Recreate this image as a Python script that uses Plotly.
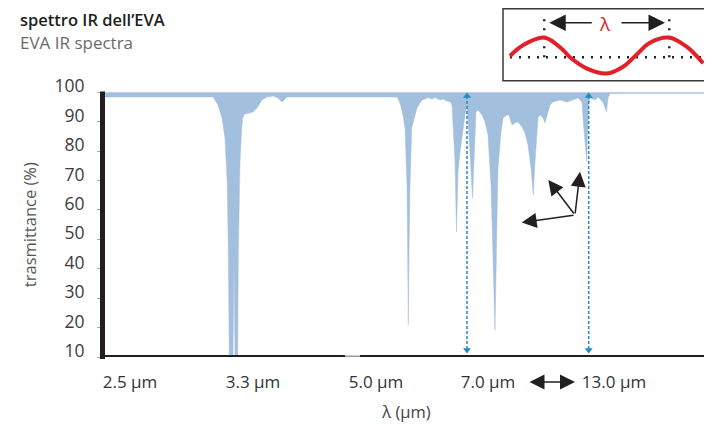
import plotly.graph_objects as go

# ---------------- data ----------------
# spectrum: position along the x axis (axis units) and transmittance (%)
pos = [0, 112, 117, 121, 124, 126.3, 127.3, 128.3, 132, 133, 134, 136.7, 137.3, 138.3, 139,
       140.7, 141.7, 143.3, 152, 156, 161, 166, 172, 177, 181, 186, 296, 299, 302, 304, 306,
       306.5, 307.3, 308, 309, 310.7, 313, 316, 319, 321, 324, 327, 331, 334, 339, 342, 346,
       349, 351, 352, 354, 355.5, 357, 359, 361, 364, 366, 367, 369, 371.5, 373, 375, 377,
       381, 384, 387, 390, 392, 394, 395.7, 397, 400, 402, 406, 408, 411, 414, 417, 421, 424,
       427, 430, 432.3, 434, 436, 437, 439, 442, 444, 446, 449, 452, 459, 466, 472, 477, 481,
       482, 485.7, 486.5, 487.5, 489, 494, 497, 502, 505.5, 507, 509, 611]
trans = [98.4, 98.4, 95.7, 91.3, 84.5, 68.5, 45.8, 10, 10, 45.4, 10, 10, 45.7, 68.5, 76.3,
         87.8, 91.3, 92.5, 93.3, 94.7, 97.4, 98.4, 98.7, 98.1, 96.7, 98.4, 98.4, 96.4, 92.3, 87.9, 68.5,
         52.5, 20.9, 45.8, 68.5, 87.9, 91.3, 94.7, 96.4, 97.4, 97.7, 98.2, 97.7, 98.2, 97.4, 97.7, 97.0,
         96.8, 95.7, 88.9, 76.3, 52.5, 72.9, 79.7, 85.5, 92.3, 95.7, 91.3, 79.7, 64.0, 79.7, 93.3, 94.0,
         92.3, 89.9, 85.5, 68.5, 40.3, 19.2, 51.5, 74.3, 86.5, 91.3, 92.3, 92.3, 88.9, 89.6, 89.9, 88.2, 86.2,
         82.1, 74.3, 65.1, 76.3, 87.9, 91.3, 92.3, 91.3, 89.6, 92.3, 95.7, 96.7, 97.4, 96.7, 97.4, 98.1, 96.7,
         91.3, 76.4, 88.9, 95.3, 98.1, 97.4, 98.4, 96.7, 93.4, 98.1, 99.6, 99.6]
top_pos = [0, 611]
top_val = [100, 100]

x_tickvals = [29, 152, 275, 387, 513]
x_ticktext = ['2.5 μm', '3.3 μm', '5.0 μm', '7.0 μm', '13.0 μm']
y_tickvals = [10, 20, 30, 40, 50, 60, 70, 80, 90, 100]

# marker lines (dotted double arrows) positions
mark_pos = [366, 487.7]
mark_span = [98.7, 12.4]

# vibration arrows: origin and heads
vib_origin = (474, 58.3)
vib_heads = [(420.7, 55.7), (447.3, 70.2), (479, 73.0)]

# inset wave (wavelength units, offset from midline)
wave_x = [-0.274, -0.168, 0, 0.15, 0.206, 0.338, 0.498, 0.631, 0.717, 0.845, 0.997, 1.139, 1.271]
wave_y = [1.3, 12.3, 19.8, 7.3, 0, -11, -16.2, -9.4, 0, 14.6, 19.8, 10.6, -6]

# ---------------- layout helpers ----------------
OFF = 8                      # page body margin of the html page
W, H = 712 - OFF, 424 - OFF  # figure size so that it fills the window exactly


def px(rx):
    return (rx - OFF) / W


def py(ry):
    return 1 - (ry - OFF) / H


FONT = 'Open Sans'
fill_col = '#a2bfdd'
ink = '#231f20'

fig = go.Figure()

fig.add_trace(go.Scatter(x=top_pos, y=top_val, mode='lines',
                         line=dict(color=fill_col, width=0.5), hoverinfo='skip', showlegend=False))
fig.add_trace(go.Scatter(x=pos, y=trans, mode='lines', fill='tonexty', fillcolor=fill_col,
                         line=dict(color=fill_col, width=0.5), showlegend=False))

for mp in mark_pos:
    fig.add_trace(go.Scatter(x=[mp, mp], y=mark_span, mode='lines+markers',
                             line=dict(color='#2589c2', width=1.5, dash='3px,2px'),
                             marker=dict(symbol=['triangle-up', 'triangle-down'], size=7, color='#2589c2'),
                             showlegend=False))

# inset
dot = dict(color='#222', width=2.5, dash='2px,7px')
fig.add_trace(go.Scatter(x=[wave_x[0], wave_x[-1]], y=[0, 0], mode='lines', xaxis='x2', yaxis='y2',
                         line=dot, showlegend=False))
for vx in [0, 1.0]:
    fig.add_trace(go.Scatter(x=[vx, vx], y=[0, 44.6], mode='lines', xaxis='x2', yaxis='y2',
                             line=dot, showlegend=False))
fig.add_trace(go.Scatter(x=wave_x, y=wave_y, mode='lines', xaxis='x2', yaxis='y2',
                         line=dict(color='#e3202a', width=4, shape='spline', smoothing=1),
                         showlegend=False))

annotations = []
for hx, hy in vib_heads:
    annotations.append(dict(x=hx, y=hy, ax=vib_origin[0], ay=vib_origin[1], xref='x', yref='y',
                            axref='x', ayref='y', text='', showarrow=True, arrowhead=2,
                            arrowsize=2, arrowwidth=1.5, arrowcolor=ink))
# inset arrows
annotations.append(dict(x=0.04, y=34.6, ax=0.392, ay=34.6, xref='x2', yref='y2', axref='x2', ayref='y2',
                        text='', showarrow=True, arrowhead=2, arrowsize=2.2, arrowwidth=1.5,
                        arrowcolor=ink))
annotations.append(dict(x=0.966, y=34.6, ax=0.606, ay=34.6, xref='x2', yref='y2', axref='x2', ayref='y2',
                        text='', showarrow=True, arrowhead=2, arrowsize=2.2, arrowwidth=1.5,
                        arrowcolor=ink))
annotations.append(dict(x=0.486, y=33.3, xref='x2', yref='y2', text='λ', showarrow=False,
                        font=dict(family=FONT, size=19, color='#e3202a')))
# double arrow between tick labels
annotations.append(dict(x=px(575), y=py(382), ax=-47, ay=0, xref='paper', yref='paper',
                        text='', showarrow=True, arrowside='end+start', arrowhead=2, startarrowhead=2,
                        arrowsize=2, startarrowsize=2, arrowwidth=1.5, arrowcolor=ink))
# titles
annotations.append(dict(x=px(18), y=py(19.5), xref='paper', yref='paper', xanchor='left',
                        yanchor='middle', showarrow=False, text='spettro IR dell’EVA',
                        font=dict(family=FONT, size=16.5, color='#1e1e1e', weight=600)))
annotations.append(dict(x=px(18), y=py(42.5), xref='paper', yref='paper', xanchor='left',
                        yanchor='middle', showarrow=False, text='EVA IR spectra',
                        font=dict(family=FONT, size=17, color='#6a6a6a')))

shapes = [
    # inset box
    dict(type='rect', xref='paper', yref='paper', x0=px(503), x1=px(707), y0=py(80.7),
         y1=py(8.8), line=dict(color='#3a3a3a', width=1.5)),
    # left axis line
    dict(type='line', xref='paper', yref='paper', x0=px(102.5), x1=px(102.5), y0=py(359),
         y1=py(91.5), line=dict(color=ink, width=5)),
    # bottom axis line
    dict(type='line', xref='paper', yref='y', x0=px(100), x1=px(345), y0=10, y1=10,
         line=dict(color=ink, width=4)),
    dict(type='line', xref='paper', yref='y', x0=px(345), x1=px(360), y0=10, y1=10,
         line=dict(color='#9a9a9a', width=3)),
    dict(type='line', xref='paper', yref='y', x0=px(360), x1=1, y0=10, y1=10,
         line=dict(color=ink, width=4)),
]

fig.update_layout(
    width=W, height=H, margin=dict(l=0, r=0, t=0, b=0, autoexpand=False),
    paper_bgcolor='white', plot_bgcolor='white',
    font=dict(family=FONT, color='#3c3c3c'),
    xaxis=dict(domain=[px(101), 1], range=[0, 611], tickvals=x_tickvals, ticktext=x_ticktext,
               automargin=False, showgrid=False, zeroline=False, showline=False, ticks='',
               tickfont=dict(family=FONT, size=17, color='#333333'), ticklabelstandoff=13,
               title=dict(text='λ (μm)', standoff=14, font=dict(family=FONT, size=16.5, color='#444444'))),
    yaxis=dict(domain=[py(357), py(92.3)], range=[10, 100], tickvals=y_tickvals,
               automargin=False, showgrid=False, zeroline=False, showline=False, ticks='outside',
               ticklen=3, tickcolor='#aaaaaa', tickwidth=1, ticklabelshift=-6, ticklabelstandoff=9,
               tickfont=dict(family=FONT, size=17.5, color='#3c3c3c'),
               title=dict(text='trasmittance (%)', standoff=13,
                          font=dict(family=FONT, size=16.5, color='#555555'))),
    xaxis2=dict(domain=[px(503), px(707)], range=[-0.330, 1.302], visible=False, anchor='y2'),
    yaxis2=dict(domain=[py(80.7), 1], range=[-23.4, 57.3 - OFF], visible=False, anchor='x2'),
    annotations=annotations, shapes=shapes,
)

fig.write_html('out.html')
